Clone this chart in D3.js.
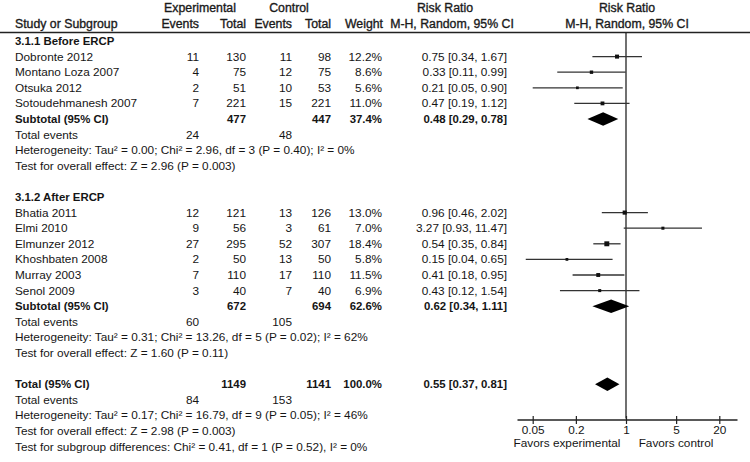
<!DOCTYPE html>
<html><head><meta charset="utf-8">
<script src="https://cdn.jsdelivr.net/npm/d3@7/dist/d3.min.js"></script>
<style>
body{margin:0;background:#fff;}
text{font-family:"Liberation Sans",Arial,sans-serif;font-size:11.8px;fill:#151515;}
.b{font-weight:bold;font-size:11.4px;}
.h{font-size:12.3px;fill:#1a1a1a;stroke:#1a1a1a;stroke-width:0.35px;}
</style></head>
<body>
<svg id="c" width="750" height="462"></svg>
<script>
// ---- data ----
const group1Names = ["Dobronte 2012","Montano Loza 2007","Otsuka 2012","Sotoudehmanesh 2007"];
const group1ExpEvents = [11,4,2,7];
const group1ExpTotal = [130,75,51,221];
const group1CtrlEvents = [11,12,10,15];
const group1CtrlTotal = [98,75,53,221];
const group1Weight = [12.2,8.6,5.6,11.0];
const group1RR = [0.75,0.33,0.21,0.47];
const group1Lo = [0.34,0.11,0.05,0.19];
const group1Hi = [1.67,0.99,0.90,1.12];

const group2Names = ["Bhatia 2011","Elmi 2010","Elmunzer 2012","Khoshbaten 2008","Murray 2003","Senol 2009"];
const group2ExpEvents = [12,9,27,2,7,3];
const group2ExpTotal = [121,56,295,50,110,40];
const group2CtrlEvents = [13,3,52,13,17,7];
const group2CtrlTotal = [126,61,307,50,110,40];
const group2Weight = [13.0,7.0,18.4,5.8,11.5,6.9];
const group2RR = [0.96,3.27,0.54,0.15,0.41,0.43];
const group2Lo = [0.46,0.93,0.35,0.04,0.18,0.12];
const group2Hi = [2.02,11.47,0.84,0.65,0.95,1.54];

// subtotals: [expTotal, ctrlTotal, weight, rr, lo, hi, expEvents, ctrlEvents]
const subtotal1 = [477,447,37.4,0.48,0.29,0.78,24,48];
const subtotal2 = [672,694,62.6,0.62,0.34,1.11,60,105];
const overall = [1149,1141,100.0,0.55,0.37,0.81,84,153];

const groupTitles = ["3.1.1 Before ERCP","3.1.2 After ERCP"];
const hetText = [
 "Heterogeneity: Tau² = 0.00; Chi² = 2.96, df = 3 (P = 0.40); I² = 0%",
 "Heterogeneity: Tau² = 0.31; Chi² = 13.26, df = 5 (P = 0.02); I² = 62%",
 "Heterogeneity: Tau² = 0.17; Chi² = 16.79, df = 9 (P = 0.05); I² = 46%"];
const effectText = [
 "Test for overall effect: Z = 2.96 (P = 0.003)",
 "Test for overall effect: Z = 1.60 (P = 0.11)",
 "Test for overall effect: Z = 2.98 (P = 0.003)"];
const subgroupText = "Test for subgroup differences: Chi² = 0.41, df = 1 (P = 0.52), I² = 0%";
const tickValues = [0.05,0.2,1,5,20];
const tickLabels = ["0.05","0.2","1","5","20"];
const favorLabels = ["Favors experimental","Favors control"];

// ---- layout ----
const svg = d3.select("#c");
const rowY = d3.scaleLinear().domain([0,26]).range([41,446.6]);
const x = d3.scaleLog().domain([0.05,20]).range([532.7,719.3]);
const col = {label:15, expE:199, expT:246, ctlE:292, ctlT:331, w:382, ci:507};
const f2 = d3.format(".2f");
const ciStr = (r,l,h)=> `${f2(r)} [${f2(l)}, ${f2(h)}]`;

function txt(xp,y,s,anchor,cls){
  svg.append("text").attr("x",xp).attr("y",y+4).attr("text-anchor",anchor||"start")
    .attr("class",cls===true?"b":(cls||null)).text(s);
}

// header
txt(200,8,"Experimental","middle","h");
txt(289,8,"Control","middle","h");
txt(445,8,"Risk Ratio","middle","h");
txt(627,8,"Risk Ratio","middle","h");
txt(col.label,23.5,"Study or Subgroup","start","h");
txt(col.expE,23.5,"Events","end","h");
txt(col.expT,23.5,"Total","end","h");
txt(col.ctlE,23.5,"Events","end","h");
txt(col.ctlT,23.5,"Total","end","h");
txt(col.w+1,23.5,"Weight","end","h");
txt(452,23.5,"M-H, Random, 95% CI","middle","h");
txt(627,23.5,"M-H, Random, 95% CI","middle","h");
svg.append("line").attr("x1",0).attr("x2",750).attr("y1",32.5).attr("y2",32.5)
  .attr("stroke","#222").attr("stroke-width",1.6);

// vertical line at 1
svg.append("line").attr("x1",x(1)).attr("x2",x(1)).attr("y1",33).attr("y2",rowY(24.2))
  .attr("stroke","#111").attr("stroke-width",1.2);

function studyRow(i,name,eE,eT,cE,cT,w,r,l,h){
  const y=rowY(i);
  txt(col.label,y,name);
  txt(col.expE,y,eE,"end"); txt(col.expT,y,eT,"end");
  txt(col.ctlE,y,cE,"end"); txt(col.ctlT,y,cT,"end");
  txt(col.w,y,w.toFixed(1)+"%","end");
  txt(col.ci,y,ciStr(r,l,h),"end");
  svg.append("line").attr("x1",x(l)).attr("x2",x(h)).attr("y1",y).attr("y2",y)
    .attr("stroke","#333").attr("stroke-width",1.3);
  const s=1.15*Math.sqrt(w);
  svg.append("rect").attr("x",x(r)-s/2).attr("y",y-s/2).attr("width",s).attr("height",s).attr("fill","#111");
}
function diamondRow(i,label,t){
  const y=rowY(i);
  txt(col.label,y,label,"start",true);
  txt(col.expT,y,t[0],"end",true); txt(col.ctlT,y,t[1],"end",true);
  txt(col.w,y,t[2].toFixed(1)+"%","end",true);
  txt(col.ci,y,ciStr(t[3],t[4],t[5]),"end",true);
  const hh=6.8;
  svg.append("path").attr("d",`M${x(t[4])},${y}L${x(t[3])},${y-hh}L${x(t[5])},${y}L${x(t[3])},${y+hh}Z`).attr("fill","#000");
}
function eventsRow(i,t){
  const y=rowY(i);
  txt(col.label,y,"Total events");
  txt(col.expE,y,t[6],"end"); txt(col.ctlE,y,t[7],"end");
}

// group 1
txt(col.label,rowY(0),groupTitles[0],"start",true);
group1Names.forEach((n,k)=>studyRow(1+k,n,group1ExpEvents[k],group1ExpTotal[k],group1CtrlEvents[k],group1CtrlTotal[k],group1Weight[k],group1RR[k],group1Lo[k],group1Hi[k]));
diamondRow(5,"Subtotal (95% CI)",subtotal1);
eventsRow(6,subtotal1);
txt(col.label,rowY(7),hetText[0]);
txt(col.label,rowY(8),effectText[0]);

// group 2
txt(col.label,rowY(10),groupTitles[1],"start",true);
group2Names.forEach((n,k)=>studyRow(11+k,n,group2ExpEvents[k],group2ExpTotal[k],group2CtrlEvents[k],group2CtrlTotal[k],group2Weight[k],group2RR[k],group2Lo[k],group2Hi[k]));
diamondRow(17,"Subtotal (95% CI)",subtotal2);
eventsRow(18,subtotal2);
txt(col.label,rowY(19),hetText[1]);
txt(col.label,rowY(20),effectText[1]);

// overall
diamondRow(22,"Total (95% CI)",overall);
eventsRow(23,overall);
txt(col.label,rowY(24),hetText[2]);
txt(col.label,rowY(25),effectText[2]);
txt(col.label,rowY(26),subgroupText);

// axis
const axY = 420;
const ax = svg.append("g").attr("transform",`translate(0,${axY})`);
ax.append("line").attr("x1",517.5).attr("x2",737.5).attr("y1",0).attr("y2",0).attr("stroke","#222").attr("stroke-width",1.3);
const axis = d3.axisBottom(x).tickValues(tickValues).tickFormat((d,i)=>tickLabels[i]).tickSize(4).tickPadding(2);
const g = ax.append("g").call(axis);
g.select(".domain").remove();
g.selectAll(".tick line").attr("y1",-4).attr("y2",4).attr("stroke","#222").attr("stroke-width",1.2);
g.selectAll(".tick text").attr("y",6).attr("dy","0.71em").style("font-family","Liberation Sans, Arial, sans-serif").style("font-size","11.8px").attr("fill","#151515");
txt(567,443,favorLabels[0],"middle");
txt(676,443,favorLabels[1],"middle");
</script>
</body></html>
